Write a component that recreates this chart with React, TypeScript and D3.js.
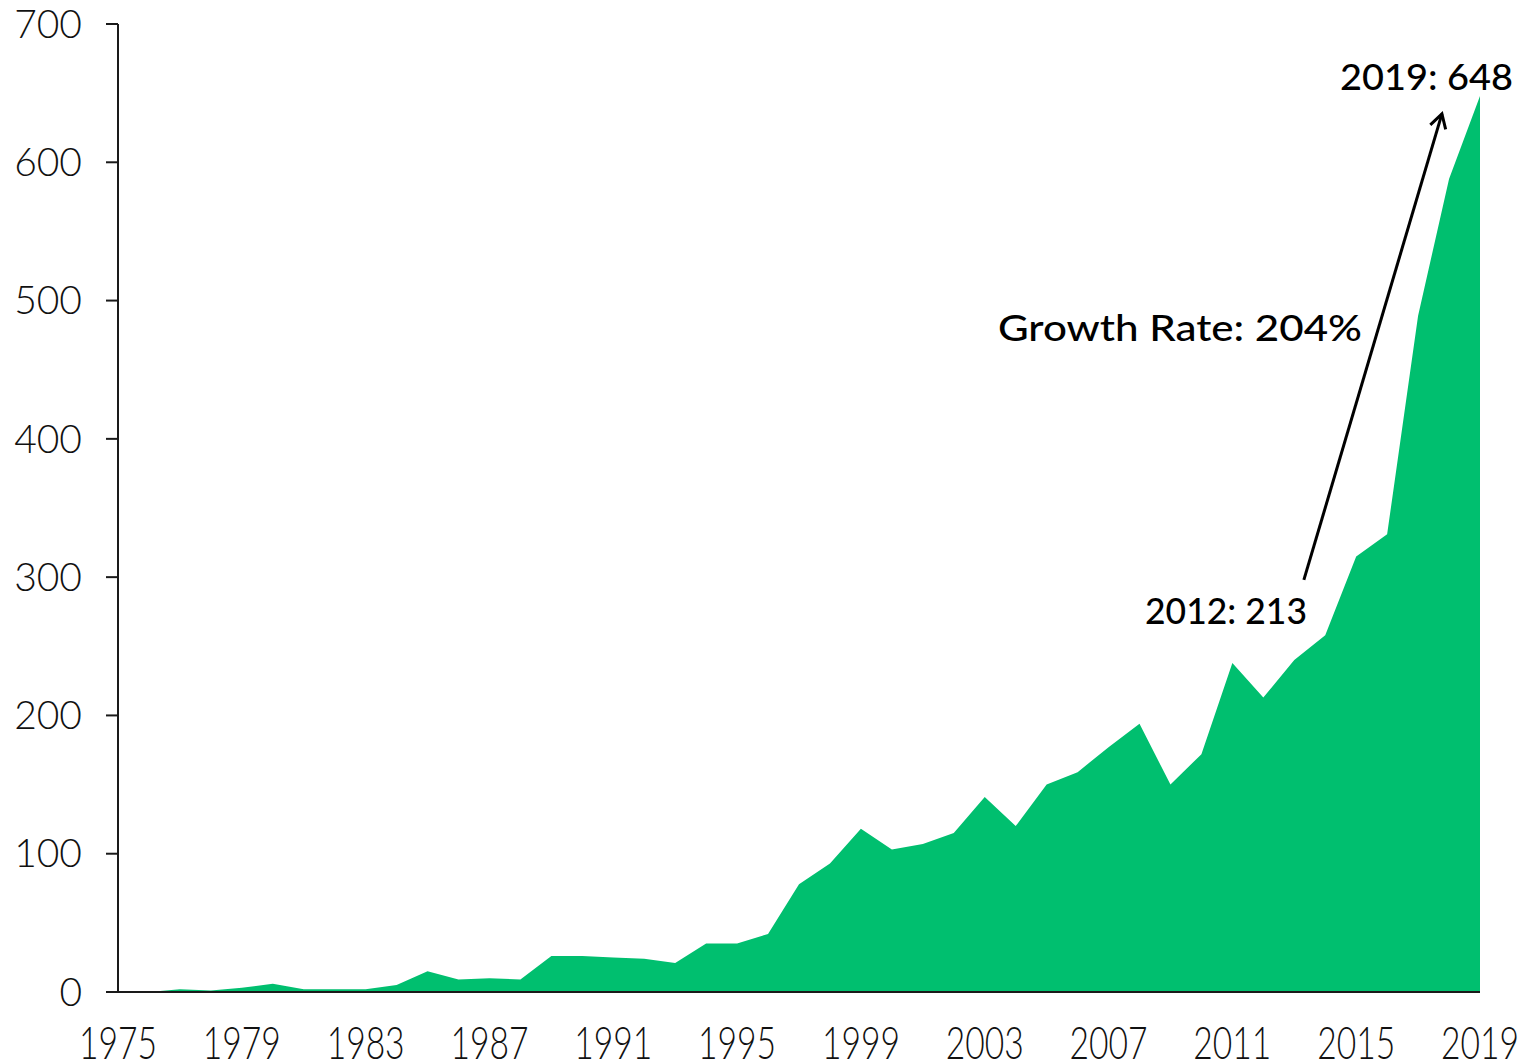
import React from "react";
import * as d3 from "d3";

const years: number[] = d3.range(1975, 2020);
const values: number[] = [
  0, 0, 2, 1, 3, 6, 2, 2, 2, 5,
  15, 9, 10, 9, 26, 26, 25, 24, 21, 35,
  35, 42, 78, 93, 118, 103, 107, 115, 141, 120,
  150, 159, 177, 194, 150, 172, 238, 213, 240, 258,
  315, 331, 489, 588, 648,
];
const yTicks: number[] = [0, 100, 200, 300, 400, 500, 600, 700];
const xTicks: number[] = d3.range(1975, 2020, 4);

const W = 1539;
const H = 1062;
const margin = { left: 118, right: 59, top: 24, bottom: 70 };

export default function App() {
  const x = d3.scaleLinear().domain([1975, 2019]).range([margin.left, W - margin.right]);
  const y = d3.scaleLinear().domain([0, 700]).range([H - margin.bottom, margin.top]);
  const data = years.map((yr, i) => ({ yr, v: values[i] }));
  const area = d3
    .area<{ yr: number; v: number }>()
    .x((d) => x(d.yr))
    .y0(y(0))
    .y1((d) => y(d.v));

  const green = "#00BF6F";
  const axisColor = "#1a1a1a";
  const tickFont = "Lato, 'Open Sans', sans-serif";

  // arrow from near 2012 label up to 2019 label
  const ax1 = x(2013.31), ay1 = y(298);
  const ax2 = x(2017.77), ay2 = y(635);
  const ang = Math.atan2(ay2 - ay1, ax2 - ax1);
  const hl = 16;
  const ha = Math.PI / 6;
  const h1x = ax2 - hl * Math.cos(ang - ha), h1y = ay2 - hl * Math.sin(ang - ha);
  const h2x = ax2 - hl * Math.cos(ang + ha), h2y = ay2 - hl * Math.sin(ang + ha);

  return (
    <svg
      width={W}
      height={H}
      style={{ position: "absolute", left: 0, top: 0, display: "block", background: "#fff" }}
    >
      <path d={area(data) || ""} fill={green} />
      {/* y axis */}
      <line x1={x(1975)} x2={x(1975)} y1={y(700)} y2={y(0)} stroke={axisColor} strokeWidth={2} />
      {yTicks.map((t) => (
        <g key={t}>
          <line x1={x(1975) - 12} x2={x(1975)} y1={y(t)} y2={y(t)} stroke={axisColor} strokeWidth={2} />
          <text
            x={x(1975) - 36}
            y={y(t)}
            dy="0.35em"
            textAnchor="end"
            fontFamily={tickFont}
            fontWeight={300}
            fontSize={39}
            fill="#111"
          >
            {t}
          </text>
        </g>
      ))}
      {/* x axis */}
      <line x1={x(1975)} x2={x(2019)} y1={y(0)} y2={y(0)} stroke={axisColor} strokeWidth={2} />
      {xTicks.map((t) => (
        <text
          key={t}
          x={x(t)}
          y={1059}
          textAnchor="middle"
          fontFamily={tickFont}
          fontWeight={300}
          fontSize={45}
          textLength={78}
          lengthAdjust="spacingAndGlyphs"
          fill="#111"
        >
          {t}
        </text>
      ))}
      {/* annotations */}
      <line x1={ax1} y1={ay1} x2={ax2} y2={ay2} stroke="#000" strokeWidth={3} />
      <polyline
        points={`${h1x},${h1y} ${ax2},${ay2} ${h2x},${h2y}`}
        fill="none"
        stroke="#000"
        strokeWidth={3}
      />
      <text x={1340} y={90} fontFamily={tickFont} fontWeight={500} fontSize={37} textLength={173} lengthAdjust="spacingAndGlyphs" fill="#000">
        2019: 648
      </text>
      <text x={998} y={341} fontFamily={tickFont} fontWeight={500} fontSize={37} textLength={364} lengthAdjust="spacingAndGlyphs" fill="#000">
        Growth Rate: 204%
      </text>
      <text x={1145} y={624} fontFamily={tickFont} fontWeight={500} fontSize={37} textLength={162} lengthAdjust="spacingAndGlyphs" fill="#000">
        2012: 213
      </text>
    </svg>
  );
}
